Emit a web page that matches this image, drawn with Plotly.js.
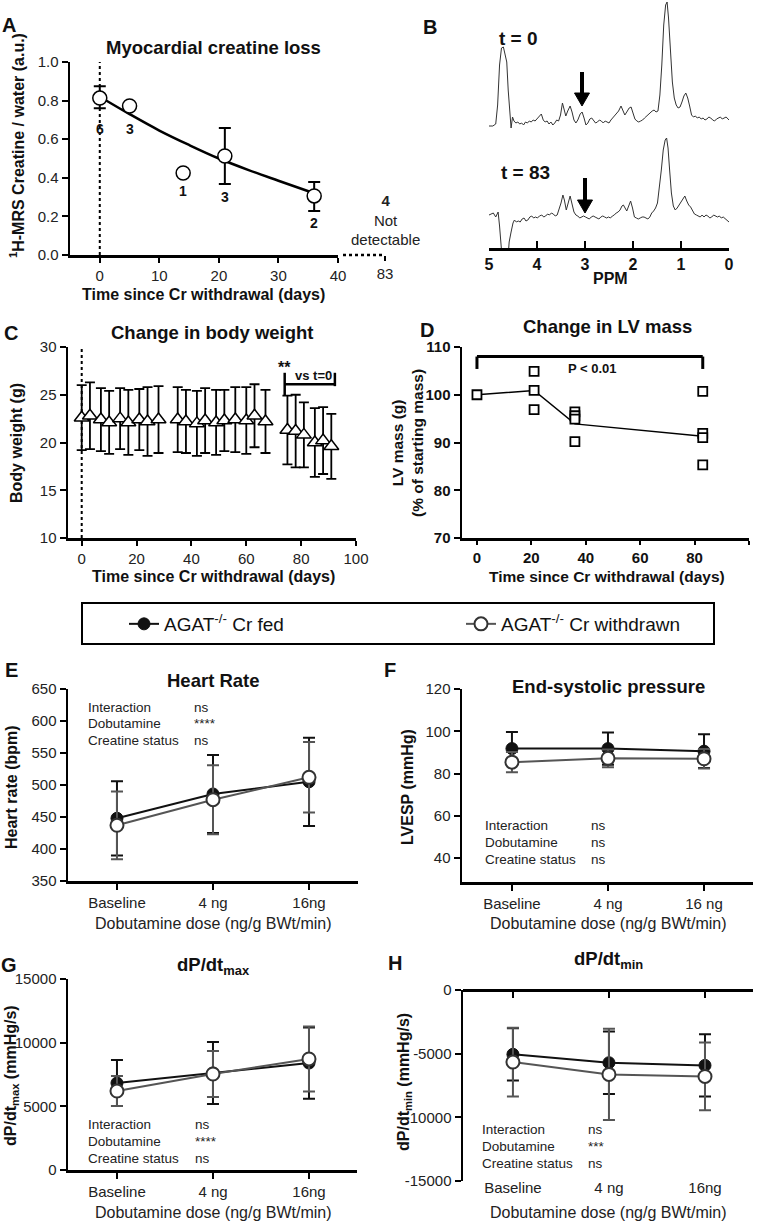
<!DOCTYPE html>
<html><head><meta charset="utf-8">
<script src="https://cdn.plot.ly/plotly-3.0.1.min.js"></script>
<style>html,body{margin:0;padding:0;background:#fff;}#chart{width:761px;height:1221px;}</style>
</head><body><div id="chart"></div>
<script>
// ================= DATA =================
// Panel A: myocardial creatine (1H-MRS)
const mrsDays = [0, 5, 14, 21, 36];
const mrsValue = [0.813, 0.772, 0.425, 0.513, 0.306];
const mrsErrPlus = [0.062, NaN, NaN, 0.145, 0.072];
const mrsErrMinus = [0.053, NaN, NaN, 0.145, 0.078];
const mrsN = ['6', '3', '1', '3', '2'];
const mrsFitDays = [0, 5, 10, 15, 20, 25, 30, 36];
const mrsFitValue = [0.82, 0.73, 0.645, 0.57, 0.50, 0.44, 0.385, 0.32];
const notDetectedDay = 83;
const notDetectedN = '4';
const mrsXTicks = [0, 10, 20, 30, 40];
const mrsYTicks = [0, 0.2, 0.4, 0.6, 0.8, 1.0];

// Panel B: spectra (ppm, arbitrary intensity)
const ppmTop = [5.00,4.92,4.86,4.82,4.78,4.74,4.70,4.66,4.63,4.60,4.56,4.54,4.51,4.48,4.44,4.40,4.36,4.32,4.28,4.24,4.20,4.16,4.12,4.08,4.04,4.00,3.96,3.91,3.87,3.83,3.79,3.75,3.71,3.67,3.63,3.59,3.55,3.51,3.47,3.43,3.40,3.36,3.31,3.27,3.23,3.19,3.15,3.10,3.06,3.02,2.98,2.94,2.90,2.86,2.82,2.78,2.74,2.70,2.66,2.62,2.58,2.54,2.50,2.46,2.42,2.38,2.34,2.30,2.25,2.21,2.17,2.13,2.08,2.04,2.00,1.96,1.92,1.88,1.84,1.80,1.76,1.72,1.68,1.64,1.60,1.56,1.52,1.48,1.44,1.40,1.36,1.32,1.29,1.26,1.22,1.18,1.14,1.10,1.06,1.02,0.98,0.94,0.90,0.86,0.82,0.78,0.74,0.70,0.66,0.62,0.58,0.54,0.50,0.46,0.42,0.38,0.34,0.30,0.26,0.22,0.18,0.14,0.10,0.06,0.02,0.00];
const specTop = [4,4,6,25,65,82,83,76,68,40,8,2,13,9,7,8,6,7,5,8,7,9,8,10,9,11,13,16,10,8,9,6,8,5,7,10,9,15,27,20,14,19,24,18,10,7,10,16,18,12,5,7,11,12,9,7,8,10,9,7,9,8,7,10,12,15,16,19,24,20,15,18,22,23,17,11,9,8,9,10,12,14,15,17,19,20,18,19,35,65,105,125,128,112,75,48,32,25,22,23,28,34,37,32,24,15,13,14,12,13,11,12,10,11,13,12,10,9,11,12,13,11,12,13,11,10];
const ppmBottom = [5.00,4.91,4.86,4.81,4.78,4.76,4.74,4.71,4.62,4.58,4.54,4.50,4.47,4.43,4.39,4.35,4.31,4.27,4.23,4.19,4.15,4.11,4.07,4.03,3.99,3.95,3.90,3.86,3.82,3.78,3.74,3.70,3.66,3.62,3.58,3.54,3.50,3.46,3.43,3.39,3.35,3.31,3.27,3.23,3.19,3.15,3.11,3.07,3.03,2.99,2.95,2.91,2.87,2.83,2.79,2.75,2.71,2.67,2.63,2.59,2.55,2.51,2.47,2.43,2.39,2.35,2.31,2.27,2.23,2.20,2.16,2.13,2.09,2.05,2.01,1.97,1.93,1.89,1.85,1.81,1.77,1.73,1.69,1.65,1.61,1.57,1.53,1.49,1.45,1.41,1.37,1.33,1.30,1.27,1.24,1.20,1.16,1.12,1.08,1.04,1.00,0.96,0.92,0.88,0.84,0.80,0.76,0.72,0.68,0.64,0.60,0.56,0.52,0.48,0.44,0.40,0.36,0.32,0.28,0.24,0.20,0.16,0.12,0.08,0.04,0.00];
const specBottom = [33,35,31,36,22,12,4,-20,-20,6,16,25,28,26,27,26,29,30,27,28,31,32,30,31,30,32,33,31,32,34,33,35,34,32,33,38,45,53,48,38,45,52,44,36,33,32,30,31,32,31,30,29,31,32,31,30,29,31,32,31,30,31,30,32,33,35,36,38,42,43,39,37,42,47,40,31,30,29,30,31,31,30,29,31,35,37,40,45,60,78,98,108,110,100,80,55,42,38,40,43,45,49,52,47,43,41,37,34,33,32,31,33,31,33,32,30,31,33,32,31,32,30,31,29,27,26];
const ppmTicks = [5, 4, 3, 2, 1, 0];
const spectrumLabels = ['t = 0', 't = 83'];

// Panel C: body weight
const bwDays = [0, 3, 7, 10, 14, 17, 21, 24, 28, 35, 38, 42, 45, 49, 52, 56, 60, 63, 67, 75, 78, 81, 85, 88, 91];
const bwMean = [22.6, 22.8, 22.4, 22.1, 22.5, 22.1, 22.4, 22.2, 22.4, 22.4, 22.2, 22.0, 22.3, 22.1, 22.3, 22.4, 22.3, 22.8, 22.2, 21.3, 21.2, 20.8, 20.0, 20.2, 19.6];
const bwSd = [3.4, 3.5, 3.3, 3.3, 3.2, 3.4, 3.2, 3.6, 3.5, 3.4, 3.3, 3.4, 3.4, 3.4, 3.2, 3.4, 3.5, 3.3, 3.3, 3.6, 3.8, 3.4, 3.6, 3.5, 3.4];
const bwXTicks = [0, 20, 40, 60, 80, 100];
const bwYTicks = [10, 15, 20, 25, 30];

// Panel D: LV mass
const lvDays = [0, 21, 21, 21, 36, 36, 36, 36, 83, 83, 83, 83];
const lvMass = [100, 104.9, 100.9, 96.9, 96.4, 95.6, 94.9, 90.2, 100.7, 91.9, 91.0, 85.3];
const lvMeanDays = [0, 21, 36, 83];
const lvMean = [100, 100.9, 93.9, 91.3];
const lvXTicks = [0, 20, 40, 60, 80, 100];
const lvYTicks = [70, 80, 90, 100, 110];

// Panels E-H: dobutamine stress
const groupNames = ['AGAT<sup>-/-</sup> Cr fed', 'AGAT<sup>-/-</sup> Cr withdrawn'];
const doseLabels = ['Baseline', '4 ng', '16ng'];
const doseLabelsF = ['Baseline', '4 ng', '16 ng'];
const hrFed = [448, 486, 505];   const hrFedSd = [58, 61, 69];
const hrWd  = [437, 477, 512];   const hrWdSd  = [53, 54, 55];
const espFed = [91.8, 91.8, 90.6]; const espFedSd = [7.8, 7.6, 8.0];
const espWd  = [85.4, 87.2, 87.0]; const espWdSd  = [4.8, 4.2, 4.6];
const dpMaxFed = [6830, 7620, 8400]; const dpMaxFedSd = [1810, 2430, 2800];
const dpMaxWd  = [6200, 7540, 8720]; const dpMaxWdSd  = [1180, 1810, 2550];
const dpMinFed = [-5050, -5710, -5920]; const dpMinFedSd = [2050, 2450, 2450];
const dpMinWd  = [-5660, -6630, -6790]; const dpMinWdSd  = [2700, 3580, 2660];
const hrTicks = [350, 400, 450, 500, 550, 600, 650];
const espTicks = [40, 60, 80, 100, 120];
const dpMaxTicks = [0, 5000, 10000, 15000];
const dpMinTicks = [-15000, -10000, -5000, 0];
const dpMinTickText = ['-15000', '-10000', '-5000', '0'];
const statRows = ['Interaction', 'Dobutamine', 'Creatine status'];
const statE = ['ns', '****', 'ns'];
const statF = ['ns', 'ns', 'ns'];
const statG = ['ns', '****', 'ns'];
const statH = ['ns', '***', 'ns'];

// ================= LAYOUT HELPERS =================
const W = 761, H = 1221;
const FONT = 'Liberation Sans, Arial, Helvetica, sans-serif';
const fx = p => p / W;
const fy = p => 1 - p / H;
const domX = (a, b) => [a / W, b / W];
const domY = (top, bottom) => [1 - bottom / H, 1 - top / H];

function ax(o) {
  return Object.assign({
    showgrid: false, zeroline: false, showline: true, linecolor: '#000', linewidth: 2.5,
    ticks: 'outside', ticklen: 6, tickwidth: 2, tickcolor: '#000',
    tickfont: {family: FONT, size: 15, color: '#222'}, fixedrange: true
  }, o);
}
const boldTick = {family: FONT, size: 15, color: '#111', weight: 'bold'};

function txt(x, y, text, size, extra) {
  return Object.assign({xref: 'paper', yref: 'paper', x: fx(x), y: fy(y), text: text, showarrow: false,
    xanchor: 'center', yanchor: 'middle', font: {family: FONT, size: size, color: '#111'}}, extra || {});
}

// ================= TRACES =================
const traces = [];
// A
traces.push({type: 'scatter', x: mrsFitDays, y: mrsFitValue, xaxis: 'x', yaxis: 'y', mode: 'lines',
  line: {color: '#000', width: 2.5, shape: 'spline'}, showlegend: false});
traces.push({type: 'scatter', x: mrsDays, y: mrsValue, xaxis: 'x', yaxis: 'y', mode: 'markers', showlegend: false,
  marker: {symbol: 'circle', size: 14, color: '#fff', line: {color: '#000', width: 1.5}},
  error_y: {type: 'data', symmetric: false, array: mrsErrPlus, arrayminus: mrsErrMinus, color: '#000', thickness: 2, width: 6}});
// B
traces.push({type: 'scatter', x: ppmTop, y: specTop, xaxis: 'x3', yaxis: 'y3', mode: 'lines',
  line: {color: '#333', width: 1}, showlegend: false});
traces.push({type: 'scatter', x: ppmBottom, y: specBottom, xaxis: 'x3', yaxis: 'y4', mode: 'lines',
  line: {color: '#333', width: 1}, showlegend: false});
// C
traces.push({type: 'scatter', x: bwDays, y: bwMean, xaxis: 'x5', yaxis: 'y5', mode: 'markers', showlegend: false,
  marker: {symbol: 'triangle-up', size: 13, color: '#fff', line: {color: '#000', width: 1.5}},
  error_y: {type: 'data', array: bwSd, color: '#000', thickness: 1.8, width: 5}});
// D
traces.push({type: 'scatter', x: lvMeanDays, y: lvMean, xaxis: 'x6', yaxis: 'y6', mode: 'lines',
  line: {color: '#000', width: 1.5}, showlegend: false});
traces.push({type: 'scatter', x: lvDays, y: lvMass, xaxis: 'x6', yaxis: 'y6', mode: 'markers', showlegend: false,
  marker: {symbol: 'square', size: 9, color: '#fff', line: {color: '#000', width: 1.8}}});

function dosePanel(xa, ya, cats, fed, fedSd, wd, wdSd, legend) {
  traces.push({type: 'scatter', x: cats, y: fed, xaxis: xa, yaxis: ya, mode: 'lines+markers', name: groupNames[0],
    showlegend: legend, legend: 'legend', line: {color: '#111', width: 2},
    marker: {symbol: 'circle', size: 12, color: '#111', line: {color: '#111', width: 1}},
    error_y: {type: 'data', array: fedSd, color: '#111', thickness: 2, width: 6}});
  traces.push({type: 'scatter', x: cats, y: wd, xaxis: xa, yaxis: ya, mode: 'lines+markers', name: groupNames[1],
    showlegend: legend, legend: 'legend2', line: {color: '#555', width: 2},
    marker: {symbol: 'circle', size: 13, color: '#fff', line: {color: '#333', width: 2}},
    error_y: {type: 'data', array: wdSd, color: '#555', thickness: 2, width: 6}});
}
dosePanel('x7', 'y7', doseLabels, hrFed, hrFedSd, hrWd, hrWdSd, true);
dosePanel('x8', 'y8', doseLabelsF, espFed, espFedSd, espWd, espWdSd, false);
dosePanel('x9', 'y9', doseLabels, dpMaxFed, dpMaxFedSd, dpMaxWd, dpMaxWdSd, false);
dosePanel('x10', 'y10', doseLabels, dpMinFed, dpMinFedSd, dpMinWd, dpMinWdSd, false);

// ================= ANNOTATIONS =================
const ann = [];
[['A', 9, 25], ['B', 430, 27], ['C', 11, 333], ['D', 427, 330], ['E', 11, 670], ['F', 390, 670], ['G', 9, 965], ['H', 395, 963]]
  .forEach(l => ann.push(txt(l[1], l[2], '<b>' + l[0] + '</b>', 20)));
[['Myocardial creatine loss', 213, 48], ['Change in body weight', 212, 332], ['Change in LV mass', 607, 326],
 ['Heart Rate', 213, 680], ['End-systolic pressure', 608, 686], ['dP/dt<sub>max</sub>', 213, 966], ['dP/dt<sub>min</sub>', 608, 960]]
  .forEach(t => ann.push(txt(t[1], t[2], '<b>' + t[0] + '</b>', 18.5)));
// axis titles
ann.push(txt(17, 146, '<b><sup>1</sup>H-MRS Creatine / water (a.u.)</b>', 16, {textangle: -90}));
ann.push(txt(203, 294, '<b>Time since Cr withdrawal (days)</b>', 16));
ann.push(txt(610, 278, '<b>PPM</b>', 16));
ann.push(txt(17, 443, '<b>Body weight (g)</b>', 16, {textangle: -90}));
ann.push(txt(213, 576, '<b>Time since Cr withdrawal (days)</b>', 16));
ann.push(txt(408, 443, '<b>LV mass (g)<br>(% of starting mass)</b>', 15.5, {textangle: -90}));
ann.push(txt(607, 576, '<b>Time since Cr withdrawal (days)</b>', 15.5));
ann.push(txt(12, 787, '<b>Heart rate (bpm)</b>', 16, {textangle: -90}));
ann.push(txt(408, 787, '<b>LVESP (mmHg)</b>', 16, {textangle: -90}));
ann.push(txt(11, 1076, '<b>dP/dt<sub>max</sub> (mmHg/s)</b>', 16, {textangle: -90}));
ann.push(txt(404, 1082, '<b>dP/dt<sub>min</sub> (mmHg/s)</b>', 16, {textangle: -90}));
[[213, 923], [608, 923], [213, 1212], [608, 1212]].forEach(p =>
  ann.push(txt(p[0], p[1], 'Dobutamine dose (ng/g BWt/min)', 16, {font: {family: FONT, size: 16, color: '#222'}})));
// A: n labels
const mrsLabelY = [0.655, 0.655, 0.333, 0.302, 0.168];
mrsDays.forEach((d, i) => ann.push({xref: 'x', yref: 'y', x: d, y: mrsLabelY[i], text: '<b>' + mrsN[i] + '</b>',
  showarrow: false, font: {family: FONT, size: 14, color: '#111'}}));
ann.push({xref: 'x2', yref: 'paper', x: notDetectedDay, y: fy(220), text: '<b>' + notDetectedN + '</b><br>Not<br>detectable',
  showarrow: false, font: {family: FONT, size: 15, color: '#222'}, yanchor: 'middle'});
// B labels
ann.push(txt(518, 39, '<b>' + spectrumLabels[0] + '</b>', 19));
ann.push(txt(525, 172, '<b>' + spectrumLabels[1] + '</b>', 19));
// C significance
ann.push({xref: 'x5', yref: 'y5', x: 74, y: 27.9, text: '<b>**</b>', showarrow: false, font: {family: FONT, size: 16, color: '#111'}});
ann.push({xref: 'x5', yref: 'y5', x: 84.5, y: 27.0, text: '<b>vs t=0</b>', showarrow: false, font: {family: FONT, size: 13, color: '#111'}});
// D significance
ann.push({xref: 'x6', yref: 'y6', x: 42.5, y: 105.6, text: '<b>P &lt; 0.01</b>', showarrow: false, font: {family: FONT, size: 13, color: '#111'}});
// stats tables
function stats(lx, vx, ys, vals) {
  statRows.forEach((r, i) => {
    ann.push(txt(lx, ys[i], r, 13.5, {xanchor: 'left', font: {family: FONT, size: 13.5, color: '#222'}}));
    ann.push(txt(vx, ys[i], vals[i], 13.5, {xanchor: 'left', font: {family: FONT, size: 13.5, color: '#222'}}));
  });
}
stats(86, 192, [707, 723, 740], statE);
stats(483, 589, [825, 842, 859], statF);
stats(86, 193, [1124, 1141, 1158], statG);
stats(480, 586, [1129, 1146, 1163], statH);

// ================= SHAPES =================
const blk = {color: '#000', width: 2.5};
function arrow(x, yTail, yTip) {
  return [
    {type: 'line', xref: 'paper', yref: 'paper', x0: fx(x), x1: fx(x), y0: fy(yTail), y1: fy(yTip - 10), line: {color: '#000', width: 4}},
    {type: 'path', xref: 'paper', yref: 'paper', fillcolor: '#000', line: {color: '#000', width: 1},
      path: 'M' + fx(x - 7.5) + ',' + fy(yTip - 13) + ' L' + fx(x + 7.5) + ',' + fy(yTip - 13) + ' L' + fx(x) + ',' + fy(yTip) + ' Z'}
  ];
}
const shapes = [
  {type: 'line', xref: 'x', yref: 'y', x0: 0, x1: 0, y0: 0, y1: 1, layer: 'below', line: {color: '#000', width: 2, dash: 'dot'}},
  {type: 'line', xref: 'paper', yref: 'paper', x0: fx(343), x1: fx(384), y0: fy(255), y1: fy(255), line: {color: '#000', width: 2.5, dash: 'dot'}},
  {type: 'line', xref: 'x5', yref: 'y5', x0: 0, x1: 0, y0: 10, y1: 30, layer: 'below', line: {color: '#000', width: 2, dash: 'dot'}},
  {type: 'line', xref: 'x5', yref: 'y5', x0: 74, x1: 92.3, y0: 26.1, y1: 26.1, line: blk},
  {type: 'line', xref: 'x5', yref: 'y5', x0: 74, x1: 74, y0: 24.9, y1: 27.3, line: blk},
  {type: 'line', xref: 'x5', yref: 'y5', x0: 92.3, x1: 92.3, y0: 25.9, y1: 27.3, line: blk},
  {type: 'line', xref: 'x6', yref: 'y6', x0: 0, x1: 83, y0: 108, y1: 108, line: {color: '#000', width: 3}},
  {type: 'line', xref: 'x6', yref: 'y6', x0: 0, x1: 0, y0: 105.4, y1: 108, line: {color: '#000', width: 3}},
  {type: 'line', xref: 'x6', yref: 'y6', x0: 83, x1: 83, y0: 105.4, y1: 108, line: {color: '#000', width: 3}},
  {type: 'rect', xref: 'paper', yref: 'paper', x0: fx(82), x1: fx(714), y0: fy(603), y1: fy(644), line: {color: '#000', width: 2}}
].concat(arrow(582, 72, 106), arrow(585, 178, 213));

// ================= LAYOUT =================
const catAx = (dom, anchor, cats, rng) => ax({domain: dom, anchor: anchor, type: 'category', categoryorder: 'array', categoryarray: cats, range: rng});
const legendBase = {orientation: 'h', xanchor: 'left', yanchor: 'top', bgcolor: 'rgba(0,0,0,0)', borderwidth: 0,
  font: {family: FONT, size: 19, color: '#111'}, itemwidth: 30};
const layout = {
  width: W, height: H, margin: {l: 0, r: 0, t: 0, b: 0}, paper_bgcolor: '#fff', plot_bgcolor: 'rgba(0,0,0,0)',
  font: {family: FONT, color: '#111'}, hovermode: false,
  // A
  xaxis: ax({domain: domX(70, 338), range: [-5, 40], anchor: 'y', tickvals: mrsXTicks, ticklen: 5}),
  yaxis: ax({domain: domY(62, 255), range: [0, 1], anchor: 'x', tickvals: mrsYTicks, tickformat: '.1f'}),
  xaxis2: ax({domain: domX(375, 395), range: [82, 84], anchor: 'y', showline: false, tickvals: [notDetectedDay], tickwidth: 2.5, ticklen: 5}),
  // B
  xaxis3: ax({domain: domX(489, 729), range: [5, 0], anchor: 'y4', tickvals: ppmTicks, ticks: 'inside', ticklen: 7,
    tickfont: {family: FONT, size: 16, color: '#111', weight: 'bold'}}),
  yaxis3: {domain: domY(0, 130), range: [0, 130], anchor: 'x3', visible: false, fixedrange: true},
  yaxis4: {domain: domY(135, 248), range: [0, 113], anchor: 'x3', visible: false, fixedrange: true},
  // C
  xaxis5: ax({domain: domX(68, 356), range: [-5, 100], anchor: 'y5', tickvals: bwXTicks, ticklen: 5}),
  yaxis5: ax({domain: domY(347, 538), range: [10, 30], anchor: 'x5', tickvals: bwYTicks}),
  // D
  xaxis6: ax({domain: domX(462, 749), range: [-5.5, 100], anchor: 'y6', tickvals: lvXTicks, tickfont: boldTick, ticklen: 4}),
  yaxis6: ax({domain: domY(347, 538), range: [70, 110], anchor: 'x6', tickvals: lvYTicks, tickfont: boldTick}),
  // E
  xaxis7: catAx(domX(68, 358), 'y7', doseLabels, [-0.51, 2.51]),
  yaxis7: ax({domain: domY(689, 881), range: [350, 650], anchor: 'x7', tickvals: hrTicks}),
  // F
  xaxis8: catAx(domX(462, 753), 'y8', doseLabelsF, [-0.52, 2.51]),
  yaxis8: ax({domain: domY(689, 882), range: [28.7, 120], anchor: 'x8', tickvals: espTicks}),
  // G
  xaxis9: catAx(domX(68, 357), 'y9', doseLabels, [-0.51, 2.5]),
  yaxis9: ax({domain: domY(979, 1170), range: [0, 15000], anchor: 'x9', tickvals: dpMaxTicks, tickformat: 'd'}),
  // H
  xaxis10: Object.assign(catAx(domX(463, 753), 'free', doseLabels, [-0.52, 2.5]), {position: fy(990), ticklabelstandoff: 177}),
  yaxis10: ax({domain: domY(990, 1181), range: [-15000, 0], anchor: 'x10', tickvals: dpMinTicks, ticktext: dpMinTickText}),
  showlegend: true,
  legend: Object.assign({x: fx(124), y: fy(605)}, legendBase),
  legend2: Object.assign({x: fx(461), y: fy(605)}, legendBase),
  annotations: ann,
  shapes: shapes
};

Plotly.newPlot('chart', traces, layout, {displayModeBar: false, staticPlot: true});
</script>
</body></html>
